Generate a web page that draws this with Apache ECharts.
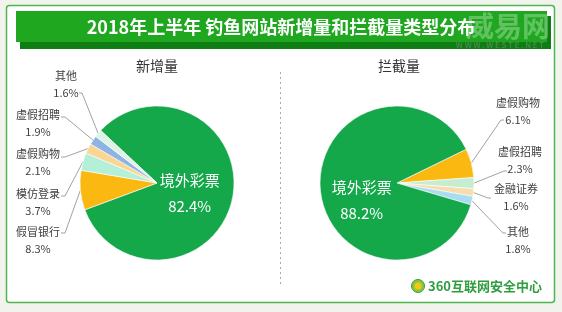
<!DOCTYPE html>
<html><head><meta charset="utf-8">
<script src="https://cdn.jsdelivr.net/npm/echarts@6/dist/echarts.min.js"></script>
<style>html,body{margin:0;padding:0;background:#f3f3ee;}#c{width:562px;height:312px;}</style>
</head><body><div id="c"></div>
<script>
const chartTitle = '2018年上半年 钓鱼网站新增量和拦截量类型分布';
const leftTitle = '新增量';
const rightTitle = '拦截量';
const leftNames = ['境外彩票', '假冒银行', '模仿登录', '虚假购物', '虚假招聘', '其他'];
const leftValues = [82.4, 8.3, 3.7, 2.1, 1.9, 1.6];
const leftColors = ['#14a84a', '#fbb810', '#b4efd8', '#fbd592', '#90b3e6', '#ddf4e5'];
const rightNames = ['虚假购物', '虚假招聘', '金融证券', '其他', '境外彩票'];
const rightValues = [6.1, 2.3, 1.6, 1.8, 88.2];
const rightColors = ['#fbb810', '#c6ecd2', '#f9dcab', '#a9dcf0', '#14a84a'];
const mainName = '境外彩票';
const FONT = '"Noto Sans CJK SC", "Noto Sans", sans-serif';

// label placement (layout only): [labelCenterX, labelCenterY, lineAttachX, lineAttachY, tail]
const labelPlacement = [
  { 1: [38, 240, 61, 233, 4], 2: [38, 202, 61, 196, 4], 3: [38, 162, 61, 157, 4], 4: [38, 123, 61, 117, 4], 5: [66, 84, 79, 93, 3] },
  { 0: [518, 111, 504, 120, -3], 1: [520, 160, 507, 171, -3], 2: [516, 197, 491, 198, -3], 3: [518, 240, 506, 233, -3] }
];

function buildData(names, values, colors, offset) {
  return names.map((n, i) => {
    const d = { name: n, value: values[i], itemStyle: { color: colors[i] } };
    if (n === mainName) {
      d.label = {
        position: 'inside',
        formatter: p => p.name + '\n' + p.value.toFixed(1) + '%',
        color: '#ffffff', fontSize: 15, lineHeight: 26, fontFamily: FONT,
        offset: offset
      };
      d.labelLine = { show: false };
    }
    return d;
  });
}

function pieSeries(names, values, colors, center, startAngle, offset) {
  return {
    type: 'pie',
    center: center,
    radius: 77,
    startAngle: startAngle,
    clockwise: true,
    avoidLabelOverlap: false,
    animation: false,
    itemStyle: { borderColor: '#ffffff', borderWidth: 0.6 },
    label: {
      position: 'outside',
      formatter: p => '{n|' + p.name + '}\n{p|' + p.value.toFixed(1) + '%}',
      color: '#404040',
      fontFamily: FONT,
      fontSize: 11,
      rich: {
        n: { width: 46, align: 'center', fontSize: 11, lineHeight: 17, color: '#404040', fontFamily: FONT },
        p: { width: 46, align: 'center', fontSize: 11, lineHeight: 17, color: '#404040', fontFamily: FONT }
      }
    },
    labelLine: { length: 18, length2: 8, lineStyle: { color: '#8a8a8a', width: 0.8 } },
    labelLayout: function (params) {
      const pos = labelPlacement[params.seriesIndex][params.dataIndex];
      if (!pos || !params.labelLinePoints) return {};
      const p0 = params.labelLinePoints[0];
      return {
        x: pos[0], y: pos[1], align: 'center', verticalAlign: 'middle',
        labelLinePoints: [[p0[0], p0[1]], [pos[2] + pos[4], pos[3]], [pos[2], pos[3]]]
      };
    },
    data: buildData(names, values, colors, offset)
  };
}

const chart = echarts.init(document.getElementById('c'), null, { renderer: 'canvas' });
chart.setOption({
  backgroundColor: '#f3f3ee',
  graphic: [
    { type: 'rect', shape: { x: 6.5, y: 5.5, width: 548, height: 297, r: 3 }, style: { fill: '#ffffff', stroke: '#4cb84c', lineWidth: 1.5 }, z: -10 },
    { type: 'rect', shape: { x: 20, y: 16, width: 531, height: 33 }, style: { fill: '#0e7d14' }, z: -5 },
    { type: 'rect', shape: { x: 16, y: 11, width: 531, height: 31 }, style: { fill: '#1fa81f' }, z: -4 },
    { type: 'text', x: 281, y: 27, style: { text: chartTitle, fill: '#ffffff', font: 'bold 18px ' + FONT, align: 'center', verticalAlign: 'middle' }, z: 5 },
    { type: 'text', x: 508, y: 26, style: { text: '威易网', fill: 'rgba(255,255,255,0.3)', font: 'bold 28px ' + FONT, align: 'center', verticalAlign: 'middle' }, z: 6 },
    { type: 'text', x: 500, y: 45, style: { text: 'W W W . W E S T E . N E T', fill: 'rgba(150,150,150,0.6)', font: '8px ' + FONT, align: 'center', verticalAlign: 'middle' }, z: 6 },
    { type: 'text', x: 157, y: 66, style: { text: leftTitle, fill: '#333333', font: '14px ' + FONT, align: 'center', verticalAlign: 'middle' } },
    { type: 'text', x: 399, y: 66, style: { text: rightTitle, fill: '#333333', font: '14px ' + FONT, align: 'center', verticalAlign: 'middle' } },
    { type: 'line', shape: { x1: 280.5, y1: 72, x2: 280.5, y2: 287 }, style: { stroke: '#aaaaaa', lineWidth: 1, lineDash: [2, 3] } },
    { type: 'circle', shape: { cx: 418, cy: 286, r: 6.5 }, style: { fill: '#8cc63f', stroke: '#2e9e3e', lineWidth: 1 } },
    { type: 'circle', shape: { cx: 418, cy: 286, r: 3.5 }, style: { fill: '#f5c518' } },
    { type: 'text', x: 428, y: 286, style: { text: '360互联网安全中心', fill: '#2e9e3e', font: 'bold 13px ' + FONT, align: 'left', verticalAlign: 'middle' } }
  ],
  series: [
    pieSeries(leftNames, leftValues, leftColors, [157, 183], 137, [-8, 2]),
    pieSeries(rightNames, rightValues, rightColors, [397, 183], 26, [6, 14])
  ]
});
</script>
</body></html>
